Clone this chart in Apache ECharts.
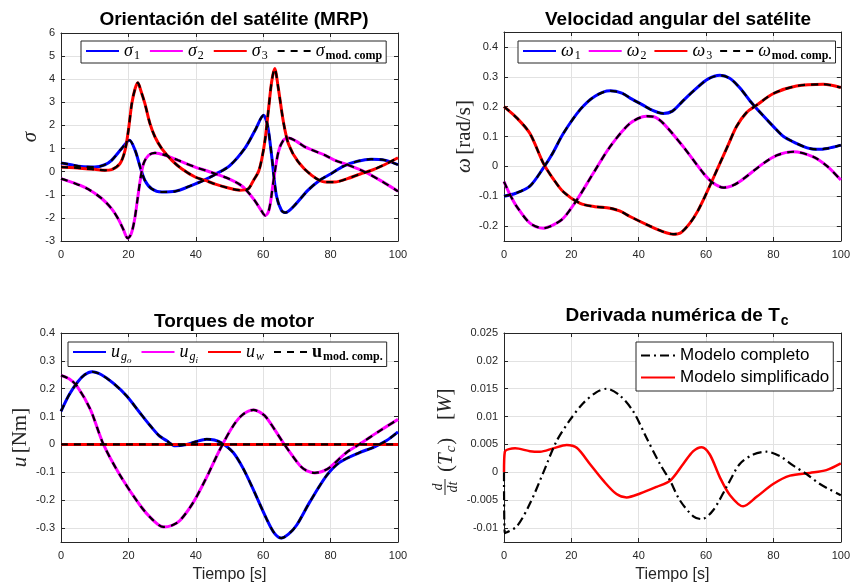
<!DOCTYPE html>
<html><head><meta charset="utf-8">
<script src="https://cdn.jsdelivr.net/npm/echarts@6/dist/echarts.min.js"></script>
<style>html,body{margin:0;padding:0;background:#fff}#c{width:853px;height:584px}</style>
</head><body><div id="c"></div>
<script>
// ---------------- DATA ----------------
const xTicks = [0, 20, 40, 60, 80, 100];
// Plot 1: MRP orientation [t, value]
const sigma1 = [[0,0.38],[3,0.3],[6,0.22],[10,0.2],[13,0.3],[15,0.49],[18,1.0],[20.3,1.36],[22,0.92],[23.5,0.2],[24.9,-0.38],[26.9,-0.74],[29.9,-0.88],[33.9,-0.85],[38.8,-0.59],[42.3,-0.38],[46,-0.1],[50,0.25],[54.6,1.02],[57.6,1.79],[60.1,2.44],[61.3,2.0],[62.5,0.7],[63.9,-1.02],[65.4,-1.67],[66.6,-1.77],[69.3,-1.46],[73.3,-0.8],[77,-0.35],[80,-0.1],[84,0.25],[88,0.45],[92,0.54],[96,0.5],[100,0.3]];
const sigma2 = [[0,-0.3],[4,-0.5],[8,-0.75],[12,-1.15],[15,-1.6],[17,-2.05],[18.5,-2.5],[19.8,-2.88],[20.8,-2.7],[21.8,-2.1],[22.7,-1.2],[23.5,-0.38],[24.5,0.35],[26,0.71],[27.9,0.81],[30.9,0.71],[34.8,0.49],[39.8,0.2],[43,0.05],[46,-0.1],[50,-0.32],[53,-0.55],[55,-0.8],[57.5,-1.25],[59.5,-1.7],[60.6,-1.9],[61.5,-1.75],[62.2,-1.3],[63,-0.45],[64.5,0.85],[66,1.36],[67.5,1.46],[70,1.3],[72.4,1.07],[78.4,0.71],[81.3,0.49],[85,0.3],[90,0.0],[95,-0.4],[100,-0.85]];
const sigma3 = [[0,0.2],[4,0.17],[8,0.12],[10,0.1],[13,0.06],[15,0.09],[17.5,0.35],[19,0.92],[20,1.79],[21,2.94],[22,3.6],[22.8,3.85],[23.7,3.5],[24.9,2.94],[26.4,2.08],[27.9,1.5],[29.9,1.0],[32.9,0.49],[35.8,0.13],[39.8,-0.23],[42.8,-0.38],[46,-0.55],[50,-0.72],[53,-0.8],[55.5,-0.75],[57.1,-0.38],[58.6,0.0],[59.6,0.56],[60.6,1.43],[61.6,2.73],[62.5,3.88],[63.4,4.46],[64.5,3.6],[66,2.15],[67.5,1.2],[70.4,0.42],[74.4,-0.16],[78.4,-0.45],[81.3,-0.45],[85,-0.3],[88.8,-0.1],[92,0.05],[96,0.3],[100,0.6]];
// Plot 2: angular velocity
const omega1 = [[0,-0.1],[3.5,-0.09],[7.7,-0.066],[11.7,-0.005],[14.5,0.045],[17.6,0.11],[22.6,0.19],[27,0.235],[31.5,0.253],[35,0.245],[38,0.225],[41.3,0.205],[44,0.188],[47.3,0.177],[50,0.185],[53.2,0.22],[57,0.26],[60.5,0.292],[64.1,0.305],[67,0.295],[70,0.263],[73,0.22],[76.5,0.175],[80,0.133],[83,0.1],[86.8,0.077],[90,0.062],[92.8,0.057],[96,0.06],[100,0.071]];
const omega2 = [[0,-0.051],[1.8,-0.095],[3.8,-0.135],[7.7,-0.19],[11.7,-0.207],[14.5,-0.197],[17.6,-0.174],[21.6,-0.113],[26.5,-0.023],[31.5,0.066],[37.4,0.144],[42.3,0.168],[44.5,0.166],[47.3,0.144],[53.2,0.066],[59.2,-0.023],[62,-0.055],[65.1,-0.071],[67.5,-0.066],[70,-0.051],[77,0.01],[81,0.037],[85.9,0.049],[91.8,0.032],[96,0.0],[100,-0.046]];
const omega3 = [[0,0.2],[4,0.16],[7.7,0.11],[11.7,0.01],[14.5,-0.04],[17.6,-0.085],[22.6,-0.124],[27,-0.135],[31.5,-0.14],[34.5,-0.15],[37.4,-0.168],[43.3,-0.2],[47,-0.218],[50.2,-0.227],[52.5,-0.222],[55.2,-0.19],[57.5,-0.15],[60.1,-0.09],[64.1,0.01],[66.5,0.07],[69,0.133],[72,0.18],[75,0.205],[80,0.244],[86.8,0.269],[94.8,0.275],[100,0.264]];
// Plot 3: motor torques
const uGo = [[0,0.119],[2.5,0.18],[5,0.225],[7,0.25],[9.2,0.261],[12,0.25],[15.5,0.22],[19.5,0.174],[23,0.12],[26.5,0.067],[29,0.033],[31.4,0.013],[33.9,-0.005],[37.3,0.0],[40,0.01],[43.2,0.019],[45.5,0.016],[47.7,0.005],[51.1,-0.029],[54,-0.085],[57,-0.16],[61,-0.267],[63.3,-0.318],[65.4,-0.336],[67.5,-0.322],[69.9,-0.29],[73.8,-0.207],[78.8,-0.112],[82.7,-0.064],[88.6,-0.029],[92.6,-0.011],[96.5,0.013],[100,0.045]];
const uGi = [[0,0.248],[2.5,0.235],[4.7,0.21],[8.7,0.126],[12.6,0.0],[17.6,-0.112],[23.5,-0.219],[27,-0.268],[30.4,-0.296],[33,-0.29],[35.3,-0.273],[39.3,-0.207],[43.2,-0.118],[47.2,-0.017],[51.1,0.067],[54,0.108],[57.1,0.124],[59,0.116],[61,0.096],[65.9,0.007],[70.9,-0.076],[73,-0.095],[75.3,-0.102],[77.5,-0.097],[79.8,-0.082],[84.7,-0.029],[88.6,0.001],[94.6,0.049],[100,0.09]];
const uW = [[0,0],[100,0]];
// Plot 4: numerical derivative of Tc
const tcCompleto = [[0,0],[0.25,-0.0109],[3.8,-0.0097],[7.7,-0.0056],[11.7,0.0],[15.6,0.0056],[19.6,0.0094],[23.5,0.0124],[27.5,0.0144],[30.5,0.015],[34.4,0.0138],[38.4,0.0109],[42.3,0.0062],[46.3,0.0015],[49.3,-0.0015],[52.2,-0.005],[56.2,-0.0079],[58.7,-0.0084],[62.1,-0.0068],[66.1,-0.0026],[70,0.0015],[74,0.0032],[77.9,0.0037],[81.9,0.0029],[85.9,0.0012],[89.8,-0.0003],[93.8,-0.0021],[100,-0.0041]];
const tcSimplificado = [[0,0],[0.25,0.0037],[3.3,0.0043],[7.7,0.0038],[10.7,0.0037],[14.6,0.0043],[18.6,0.0049],[21.6,0.0044],[25.5,0.0015],[29.5,-0.0015],[33.4,-0.0039],[36.4,-0.0045],[40.4,-0.0038],[45.3,-0.0026],[49.3,-0.0015],[53.2,0.0015],[56.2,0.0038],[58.7,0.0045],[61.1,0.0032],[64.1,-0.0009],[67.1,-0.0041],[71,-0.0061],[75,-0.0044],[79.9,-0.0021],[84.9,-0.0006],[90.8,-0.0001],[95.7,0.0004],[100,0.0016]];
// tick labels
const yTicks1 = [-3,-2,-1,0,1,2,3,4,5,6];
const yTicks2 = [-0.2,-0.1,0,0.1,0.2,0.3,0.4];
const yTicks3 = [-0.3,-0.2,-0.1,0,0.1,0.2,0.3,0.4];
const yTicks4 = [-0.01,-0.005,0,0.005,0.01,0.015,0.02,0.025];

// ---------------- CHART ----------------
const chart = echarts.init(document.getElementById('c'));
const SANS = 'Liberation Sans', SERIF = 'Liberation Serif';
const AX = '#262626', GRIDC = '#e2e2e2';
const SMOOTH = 0.3;

const grids = [
  {left:61, top:33, width:337, height:208},
  {left:504, top:32, width:337, height:209},
  {left:61, top:333, width:337, height:210},
  {left:504, top:333, width:337, height:210}
];
const yRanges = [
  {min:-3, max:6, interval:1, ticks:yTicks1},
  {min:-0.25, max:0.45, interval:0.05, ticks:yTicks2},
  {min:-0.35, max:0.4, interval:0.05, ticks:yTicks3},
  {min:-0.0125, max:0.025, interval:0.0025, ticks:yTicks4}
];

const xAxes = [], yAxes = [];
grids.forEach((g, i) => {
  const lbl = {color:AX, fontSize:11, fontFamily:SANS, margin:8};
  xAxes.push({type:'value', gridIndex:i, min:0, max:100, interval:20, position:'bottom',
    axisLine:{show:true, onZero:false, lineStyle:{color:AX, width:1}},
    axisTick:{show:true, inside:true, length:4, lineStyle:{color:AX}, customValues:xTicks},
    axisLabel:Object.assign({customValues:xTicks}, lbl),
    splitLine:{show:true, lineStyle:{color:GRIDC, width:1}},
    name: i >= 2 ? 'Tiempo [s]' : '', nameLocation:'middle', nameGap:25,
    nameTextStyle:{fontFamily:SANS, fontSize:16, color:AX}
  });
  xAxes.push({type:'value', gridIndex:i, min:0, max:100, interval:20, position:'top',
    axisLine:{show:true, onZero:false, lineStyle:{color:AX, width:1}},
    axisTick:{show:true, inside:true, length:4, lineStyle:{color:AX}, customValues:xTicks},
    axisLabel:{show:false}, splitLine:{show:false}
  });
  const r = yRanges[i];
  yAxes.push({type:'value', gridIndex:i, min:r.min, max:r.max, interval:r.interval, position:'left',
    axisLine:{show:true, onZero:false, lineStyle:{color:AX, width:1}},
    axisTick:{show:true, inside:true, length:4, lineStyle:{color:AX}, customValues:r.ticks},
    axisLabel:Object.assign({customValues:r.ticks}, lbl, {margin:6}),
    splitLine:{show:true, lineStyle:{color:GRIDC, width:1}}
  });
  yAxes.push({type:'value', gridIndex:i, min:r.min, max:r.max, interval:r.interval, position:'right',
    axisLine:{show:true, onZero:false, lineStyle:{color:AX, width:1}},
    axisTick:{show:true, inside:true, length:4, lineStyle:{color:AX}, customValues:r.ticks},
    axisLabel:{show:false}, splitLine:{show:false}
  });
});
// y axis names
yAxes[0].name = '{i|σ}';
yAxes[0].nameGap = 20;
yAxes[2].name = '{i|ω} {n|[rad/s]}';
yAxes[2].nameGap = 19;
yAxes[4].name = '{i|u} {n|[Nm]}';
yAxes[4].nameGap = 30;
[0,2,4].forEach(k => {
  yAxes[k].nameLocation = 'middle';
  yAxes[k].nameTextStyle = {rich:{
    i:{fontFamily:SERIF, fontStyle:'italic', fontSize:21, color:AX},
    n:{fontFamily:SERIF, fontSize:21, color:AX}
  }};
});

function solid(name, data, color, gi) {
  return {type:'line', name, data, xAxisIndex:gi*2, yAxisIndex:gi*2, symbol:'none', showSymbol:false,
    smooth:SMOOTH, lineStyle:{color, width:3}, itemStyle:{color}, z:2, animation:false};
}
function dashed(name, data, gi) {
  return {type:'line', name, data, xAxisIndex:gi*2, yAxisIndex:gi*2, symbol:'none', showSymbol:false,
    smooth:SMOOTH, lineStyle:{color:'#000', width:2.2, type:[7,6]}, itemStyle:{color:'#000'}, z:3, animation:false};
}

const series = [
  solid('s1', sigma1, '#0000ff', 0), solid('s2', sigma2, '#ff00ff', 0), solid('s3', sigma3, '#ff0000', 0),
  dashed('sm', sigma1, 0), dashed('sm', sigma2, 0), dashed('sm', sigma3, 0),
  solid('w1', omega1, '#0000ff', 1), solid('w2', omega2, '#ff00ff', 1), solid('w3', omega3, '#ff0000', 1),
  dashed('wm', omega1, 1), dashed('wm', omega2, 1), dashed('wm', omega3, 1),
  solid('ugo', uGo, '#0000ff', 2), solid('ugi', uGi, '#ff00ff', 2), solid('uw', uW, '#ff0000', 2),
  dashed('um', uGo, 2), dashed('um', uGi, 2), dashed('um', uW, 2),
  {type:'line', name:'Modelo completo', data:tcCompleto, xAxisIndex:6, yAxisIndex:6, symbol:'none', showSymbol:false,
    smooth:SMOOTH, lineStyle:{color:'#000', width:2.2, type:[9,4,2,4]}, itemStyle:{color:'#000'}, z:3, animation:false},
  {type:'line', name:'Modelo simplificado', data:tcSimplificado, xAxisIndex:6, yAxisIndex:6, symbol:'none', showSymbol:false,
    smooth:SMOOTH, lineStyle:{color:'#ff0000', width:2.5}, itemStyle:{color:'#ff0000'}, z:2, animation:false}
];

const legendText = {
  s1:'{i|σ}{s|1}', s2:'{i|σ}{s|2}', s3:'{i|σ}{s|3}', sm:'{i|σ}{b|mod. comp}',
  w1:'{i|ω}{s|1}', w2:'{i|ω}{s|2}', w3:'{i|ω}{s|3}', wm:'{i|ω}{b|mod. comp.}',
  ugo:'{i|u}{si|g}{ss|o}', ugi:'{i|u}{si|g}{ss|i}', uw:'{i|u}{si|w}', um:'{bu|u}{b|mod. comp.}'
};
const legRich = {
  i:{fontFamily:SERIF, fontStyle:'italic', fontSize:18, color:'#000'},
  bu:{fontFamily:SERIF, fontWeight:'bold', fontSize:18, color:'#000'},
  s:{fontFamily:SERIF, fontSize:12, color:'#000', padding:[10,0,0,1]},
  si:{fontFamily:SERIF, fontStyle:'italic', fontSize:12, color:'#000', padding:[10,0,0,1]},
  ss:{fontFamily:SERIF, fontStyle:'italic', fontSize:9, color:'#000', padding:[18,0,0,0]},
  b:{fontFamily:SERIF, fontWeight:'bold', fontSize:12, color:'#000', padding:[10,0,0,1]}
};
const noSymbol = {opacity:0, borderWidth:0};
function mathLegend(names, left, top, gap) {
  return {data:names, left, top, orient:'horizontal', itemWidth:33, itemHeight:12, itemGap:gap,
    padding:[1,4,1,4], borderColor:AX, borderWidth:1, backgroundColor:'#fff',
    itemStyle:noSymbol,
    formatter: n => legendText[n], textStyle:{rich:legRich}, selectedMode:false};
}

const TITLE = {fontFamily:SANS, fontSize:19, fontWeight:'bold', color:'#000'};
const option = {
  animation:false,
  backgroundColor:'#fff',
  title:[
    {text:'Orientación del satélite (MRP)', left:229, top:5, textAlign:'center', textStyle:TITLE},
    {text:'Velocidad angular del satélite', left:673, top:5, textAlign:'center', textStyle:TITLE},
    {text:'Torques de motor', left:229, top:307, textAlign:'center', textStyle:TITLE},
    {text:'{a|Derivada numérica de T}{s|c}', left:672, top:298, textAlign:'center',
      textStyle:{rich:{a:TITLE,
                       s:{fontFamily:SANS, fontSize:14, fontWeight:'bold', color:'#000', padding:[11,0,0,1]}}}}
  ],
  grid: grids.map(g => Object.assign({containLabel:false}, g)),
  xAxis: xAxes,
  yAxis: yAxes,
  legend:[
    mathLegend(['s1','s2','s3','sm'], 81, 41, 9),
    mathLegend(['w1','w2','w3','wm'], 518, 41, 7),
    mathLegend(['ugo','ugi','uw','um'], 68, 342, 9),
    {data:['Modelo completo','Modelo simplificado'], left:636, top:342, orient:'vertical',
      itemWidth:34, itemHeight:12, itemGap:5, padding:[5,4,5,4], borderColor:AX, borderWidth:1, backgroundColor:'#fff',
      itemStyle:noSymbol,
      textStyle:{fontFamily:SANS, fontSize:17, color:'#000'}, selectedMode:false}
  ],
  graphic:[{
    type:'group', x:445, y:445, rotation:Math.PI/2,
    children:[
      {type:'text', x:-42, y:-7, style:{text:'d', font:'italic 14px "Liberation Serif"', fill:AX, align:'center', verticalAlign:'middle'}},
      {type:'line', shape:{x1:-50, y1:0, x2:-34, y2:0}, style:{stroke:AX, lineWidth:1}},
      {type:'text', x:-42, y:8, style:{text:'dt', font:'italic 14px "Liberation Serif"', fill:AX, align:'center', verticalAlign:'middle'}},
      {type:'text', x:-27, y:1, style:{text:'{n|(}{i|T}{s|c}{n|)}', align:'left', verticalAlign:'middle',
        rich:{n:{font:'21px "Liberation Serif"', fill:AX},
              i:{font:'italic 21px "Liberation Serif"', fill:AX},
              s:{font:'italic 15px "Liberation Serif"', fill:AX, padding:[11,1,0,1]}}}},
      {type:'text', x:25, y:0, style:{text:'{n|[}{i|W}{n|]}', align:'left', verticalAlign:'middle',
        rich:{n:{font:'21px "Liberation Serif"', fill:AX},
              i:{font:'italic 21px "Liberation Serif"', fill:AX}}}}
    ]
  }],
  series
};
chart.setOption(option);
</script>
</body></html>
